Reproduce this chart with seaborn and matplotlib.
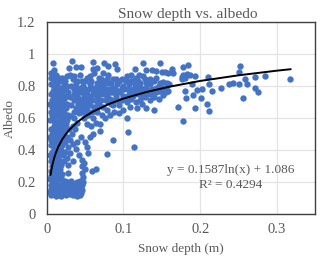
import matplotlib
matplotlib.use("Agg")
import matplotlib.pyplot as plt
import pandas as pd
import seaborn as sns

# (snow depth m, albedo), grouped by region
low_blob = [(.004,.14),(.006,.12),(.008,.16),(.010,.125),(.012,.115),(.014,.15),(.016,.12),(.018,.115),(.020,.13),
 (.022,.15),(.024,.135),(.026,.17),(.028,.13),(.030,.16),(.032,.145),(.034,.12),(.036,.15),(.038,.13),(.040,.165),
 (.042,.14),(.044,.16),(.046,.18),(.047,.2),(.044,.205),(.040,.2),(.036,.19),(.032,.205),(.028,.2),(.024,.21),
 (.020,.19),(.016,.185),(.012,.19),(.008,.2),(.005,.18),(.004,.22),(.006,.24),(.009,.23),(.012,.235),(.015,.22),
 (.018,.225),(.021,.21),(.025,.175),(.035,.17),(.043,.12),(.039,.115),(.03,.125),(.025,.12),(.021,.165),(.017,.155),
 (.011,.16),(.006,.16),(.033,.175),(.038,.18),(.042,.185),(.046,.15),(.045,.13)]
left_column = [(.005,.27),(.007,.3),(.011,.27),(.014,.26),(.017,.28),(.020,.25),(.006,.33),(.009,.35),(.013,.32),
 (.016,.34),(.019,.31),(.022,.33),(.004,.37),(.007,.39),(.011,.38),(.015,.37),(.018,.4),(.021,.37),(.024,.39),
 (.005,.43),(.008,.45),(.012,.42),(.016,.44),(.020,.43),(.024,.45),(.028,.42),(.004,.48),(.007,.5),(.011,.48),
 (.015,.5),(.019,.48),(.023,.5),(.027,.48),(.031,.46),(.005,.53),(.009,.55),(.013,.53),(.017,.55),(.021,.53),
 (.025,.56),(.029,.53),(.033,.5),(.037,.53),(.004,.59),(.008,.6),(.012,.58),(.016,.61),(.020,.59),(.024,.61),
 (.005,.64),(.009,.66),(.013,.64),(.017,.66),(.021,.64),(.025,.66),(.004,.69),(.007,.71),(.011,.69),(.015,.72),
 (.019,.7),(.023,.72),(.005,.75),(.008,.77),(.012,.75),(.016,.78),(.020,.76),(.024,.78),(.028,.76),(.006,.81),
 (.010,.83),(.014,.81),(.018,.83),(.008,.86),(.012,.87),(.006,.88),(.0086,.941),(.010,.9),(.016,.85),(.024,.83),
 (.009,.29),(.013,.29),(.011,.33),(.015,.31),(.007,.35),(.013,.36),(.009,.41),(.014,.4),(.006,.46),(.01,.44),
 (.014,.46),(.018,.46),(.022,.47),(.007,.53),(.011,.51),(.015,.53),(.019,.52),(.023,.53),(.01,.58),(.014,.56),
 (.018,.58),(.022,.57),(.027,.59),(.007,.62),(.011,.62),(.015,.63),(.019,.62),(.023,.63),(.028,.62),(.007,.67),
 (.011,.66),(.015,.68),(.019,.67),(.023,.68),(.027,.69),(.009,.73),(.013,.72),(.017,.74),(.021,.73),(.025,.74),
 (.01,.79),(.014,.77),(.018,.79),(.022,.8),(.026,.8),(.012,.83),(.02,.85),(.027,.86),(.005,.85)]
hole_edge = [(.028,.307),(.028,.255),(.0347,.334),(.038,.407),(.042,.37),(.046,.34),(.046,.3),(.046,.26),(.047,.23),
 (.049,.32),(.05,.28),(.0586,.27),(.064,.282),(.054,.38),(.078,.375),(.0867,.461),(.114,.421),(.1055,.515),
 (.05,.45),(.056,.48),(.06,.5),(.045,.48),(.052,.42),(.04,.45),(.034,.44),(.03,.38),(.026,.35)]
middle = [(.0326,.955),(.0382,.92),(.0447,.92),(.029,.91),(.0599,.949),(.075,.941),(.08,.925),(.0889,.936),(.0919,.905),
 (.06,.905),(.066,.91),(.03,.87),(.036,.86),(.044,.87),(.05,.83),(.056,.86),(.062,.88),(.068,.85),(.074,.88),
 (.08,.87),(.086,.84),(.032,.8),(.038,.82),(.044,.79),(.05,.78),(.056,.81),(.062,.79),(.068,.82),(.074,.8),
 (.08,.82),(.086,.79),(.092,.81),(.098,.79),(.03,.73),(.036,.75),(.042,.72),(.048,.74),(.054,.72),(.06,.75),
 (.066,.73),(.072,.76),(.078,.74),(.084,.76),(.09,.74),(.032,.68),(.038,.66),(.044,.69),(.05,.66),(.056,.68),
 (.062,.67),(.068,.69),(.074,.67),(.08,.7),(.086,.68),(.03,.61),(.036,.6),(.042,.63),(.048,.6),(.054,.62),
 (.06,.6),(.066,.64),(.072,.62),(.078,.65),(.034,.55),(.04,.57),(.052,.56),(.058,.55),(.064,.57),(.07,.56),
 (.076,.6),(.07,.52),(.082,.62),(.088,.64),(.035,.78),(.041,.76),(.047,.8),(.053,.77),(.059,.78),(.065,.77),
 (.071,.78),(.077,.78),(.083,.78),(.089,.78),(.035,.71),(.041,.69),(.047,.71),(.053,.7),(.059,.71),(.065,.7),
 (.071,.71),(.077,.71),(.083,.72),(.089,.71),(.035,.64),(.041,.66),(.047,.64),(.053,.65),(.059,.64),(.065,.66),
 (.04,.83),(.046,.83),(.052,.85),(.058,.83),(.065,.82),(.071,.84),(.078,.84),(.084,.82),(.09,.84),(.034,.84),
 (.039,.74),(.045,.76),(.051,.75),(.057,.74),(.063,.76),(.069,.75),(.075,.75),(.081,.76),(.087,.76),(.093,.77),
 (.038,.79),(.056,.79),(.068,.79),(.074,.83),(.094,.83),(.091,.71),(.094,.68),(.084,.69),(.05,.69),(.044,.66)]
upper_right = [(.125,.941),(.115,.905),(.12,.87),(.13,.9),(.137,.9),(.143,.89),(.1475,.941),(.1497,.888),(.154,.888),
 (.1583,.88),(.1628,.905),(.164,.882),(.098,.84),(.104,.86),(.11,.83),(.116,.85),(.122,.82),(.128,.84),(.134,.81),
 (.14,.83),(.146,.8),(.095,.76),(.101,.78),(.107,.75),(.113,.78),(.119,.75),(.125,.77),(.131,.75),(.137,.78),
 (.143,.76),(.149,.78),(.155,.79),(.098,.71),(.104,.7),(.11,.72),(.116,.7),(.122,.71),(.128,.73),(.134,.71),
 (.14,.73),(.146,.72),(.1518,.826),(.1562,.816),(.1596,.81),(.151,.743),(.1527,.764),(.148,.77),(.155,.76),
 (.1,.65),(.108,.67),(.118,.66),(.094,.63),(.104,.6),(.124,.69),(.13,.66),(.14,.65),(.1705,.668),(.1771,.579),
 (.1,.74),(.106,.78),(.112,.74),(.118,.79),(.124,.74),(.13,.79),(.136,.75),(.142,.79),(.1,.8),(.107,.81),(.115,.81),
 (.123,.79),(.135,.84),(.142,.85),(.148,.82),(.125,.86),(.11,.87),(.103,.73),(.109,.77),(.115,.76),(.121,.77),
 (.127,.76),(.133,.77),(.139,.76),(.145,.77),(.103,.83),(.113,.83),(.119,.83),(.13,.82),(.152,.79),(.158,.77)]
far_right = [(.2517,.926),(.2508,.887),(.184,.93),(.178,.918),(.3168,.841),(.2843,.864),(.272,.853),(.2586,.841),
 (.2612,.81),(.25,.81),(.2422,.818),(.2378,.812),(.2274,.789),(.2105,.855),(.2114,.81),(.2148,.77),(.2022,.783),
 (.1957,.774),(.1905,.745),(.2005,.725),(.2083,.689),(.2114,.645),(.1935,.66),(.2556,.723),(.2708,.785),(.2747,.762),
 (.1814,.725),(.1797,.77),(.1888,.81),(.1931,.862),(.1758,.841),(.178,.87),(.183,.875),(.187,.865),(.176,.855),(.18,.85)]

trend_depth = [.005,.006,.007,.008,.01,.012,.015,.02,.025,.03,.04,.05,.06,.08,.1,.13,.16,.2,.25,.3,.318]
trend_albedo = [.245,.274,.299,.32,.355,.384,.419,.465,.5,.529,.575,.61,.639,.685,.721,.762,.795,.831,.866,.895,.904]
x_ticks = [0, .1, .2, .3]
x_labels = ["0", "0.1", "0.2", "0.3"]
y_ticks = [0, .2, .4, .6, .8, 1, 1.2]
y_labels = ["0", "0.2", "0.4", "0.6", "0.8", "1", "1.2"]

points = pd.DataFrame(low_blob + left_column + hole_edge + middle + upper_right + far_right,
                      columns=["depth", "albedo"])
trend = pd.DataFrame({"depth": trend_depth, "albedo": trend_albedo})

sns.set_theme(style="white")
plt.rcParams["font.family"] = ["Liberation Serif", "DejaVu Serif"]
GREY = "#595959"
fig = plt.figure(figsize=(3.2, 2.59), dpi=100)
ax = fig.add_axes([46.7/320, 1-214.3/259, (315.3-46.7)/320, (214.3-21.7)/259])
ax.grid(True, color="#e4e4e4", lw=0.9)
ax.set_axisbelow(True)
sns.scatterplot(data=points, x="depth", y="albedo", ax=ax, color="#4472C4", s=21, linewidth=0, zorder=2)
sns.lineplot(data=trend, x="depth", y="albedo", ax=ax, color="black", lw=1.4, zorder=3, errorbar=None)
ax.set_xlim(0, .35)
ax.set_ylim(0, 1.2)
ax.set_xticks(x_ticks, x_labels)
ax.set_yticks(y_ticks, y_labels)
ax.tick_params(axis="both", colors=GREY, labelsize=10.5, length=0)
ax.tick_params(axis="x", pad=6)
ax.tick_params(axis="y", pad=8)
for s in ax.spines.values():
    s.set_color("#404040")
    s.set_linewidth(1.0)
ax.set_xlabel("Snow depth (m)", color=GREY, fontsize=9.5, labelpad=5)
ax.set_ylabel("Albedo", color=GREY, fontsize=9.5, labelpad=1)
ax.set_title("Snow depth vs. albedo", color=GREY, fontsize=11.1, pad=3, x=.526)
ax.text(.24, .229, "y = 0.1587ln(x) + 1.086\nR² = 0.4294", color=GREY, fontsize=9.5,
        ha="center", va="center", linespacing=1.25)
fig.savefig("out.png", dpi=100)
